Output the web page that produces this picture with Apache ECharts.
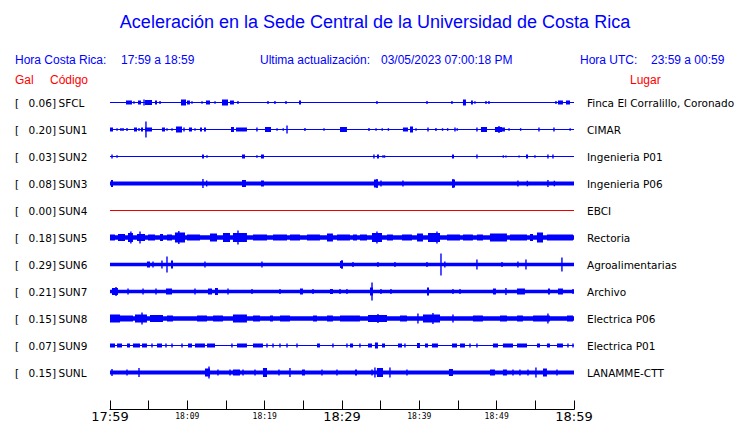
<!DOCTYPE html>
<html><head><meta charset="utf-8">
<script src="https://cdn.jsdelivr.net/npm/echarts@6/dist/echarts.min.js"></script>
<style>html,body{margin:0;padding:0;background:#fff}#c{width:740px;height:423px}</style>
</head><body><div id="c"></div>
<script>
// ---------- data ----------
const stationCodes = ['SFCL','SUN1','SUN2','SUN3','SUN4','SUN5','SUN6','SUN7','SUN8','SUN9','SUNL'];
const galValues = ['0.06','0.20','0.03','0.08','0.00','0.18','0.29','0.21','0.15','0.07','0.15'];
const places = ['Finca El Corralillo, Coronado','CIMAR','Ingenieria P01','Ingenieria P06','EBCI','Rectoria','Agroalimentarias','Archivo','Electrica P06','Electrica P01','LANAMME-CTT'];
const tickLabels = ['17:59','18:09','18:19','18:29','18:39','18:49','18:59'];
const bigTickLabels = ['17:59','18:29','18:59'];
// baseline half-amplitude of each trace
const baseAmp = [0.5,0.6,0.5,2,0.5,2.3,1.7,1.7,2.3,0.6,2];
// bursts: [start minute, end minute, half amplitude]
const evSFCL = [[2.07,2.84,2],[3.1,3.1,1.2],[3.62,4.01,2],[4.53,5.43,2.5],[4.4,4.4,3],[5.82,6.08,2],[6.47,6.47,1.5],[9.18,9.83,3],[9.96,10.34,2],[10.6,10.6,1.2],[11.9,11.9,1.2],[12.41,12.93,2],[13.58,13.58,1.2],[14.48,15.26,3],[15.52,16.03,2],[16.55,16.55,1.5],[20.43,20.43,1.5],[21.33,21.33,1.5],[22.76,22.76,1.5],[24.44,24.7,2],[34.52,34.52,1.5],[40.99,40.99,1.5],[44.22,44.22,1.5],[45.64,46.03,3],[46.68,46.93,2],[47.19,47.19,1.2],[48.62,48.62,1.5],[49.0,49.0,1.5],[57.67,57.67,1.5],[57.93,58.57,2],[58.96,59.48,2]];
const evSUN1 = [[0,0.39,2],[0.91,0.91,1.3],[1.42,1.42,1.5],[1.68,1.68,1.5],[2.2,2.2,1.5],[3.1,3.49,2],[3.75,3.75,1.5],[4.01,4.27,2],[4.53,5.43,2],[4.65,4.65,8],[6.72,7.11,2],[7.37,7.37,1.3],[8.02,8.02,1.3],[8.53,9.31,3],[9.57,9.57,2],[10.21,10.6,2],[10.99,10.99,1.3],[11.64,11.9,2],[12.15,12.41,2],[15.65,16.03,2.5],[16.29,17.71,2],[19.0,19.0,2],[20.04,20.82,2.5],[21.6,21.6,1.3],[22.4,22.4,1.3],[22.89,22.89,4],[25.21,25.21,1.5],[27.67,27.67,1.3],[29.74,30.64,2.5],[33.49,33.49,1.5],[34.4,34.4,1.3],[35.2,35.2,1.3],[36.0,36.0,1.3],[37.88,38.53,2],[38.79,39.18,3],[39.57,39.57,1.3],[41.12,41.12,2],[42.15,42.15,1.5],[43.0,43.0,1.3],[43.66,43.66,1.3],[44.61,44.61,2],[44.9,44.9,1.3],[47.45,47.45,2],[47.97,48.75,2.5],[49.78,50.69,2.5],[50.3,50.3,3.5],[50.69,51.07,2],[51.6,51.6,1.3],[53.1,53.1,1.3],[55.47,55.47,2],[57.41,57.41,2],[59.5,59.5,1.3]];
const evSUN2 = [[0.26,0.26,2],[0.91,0.91,1.2],[11.9,12.15,2],[12.54,12.54,1.2],[17.07,17.46,2],[19.0,19.0,1.2],[19.52,19.91,2],[34.13,34.13,2],[34.52,34.78,2],[35.3,35.3,1.2],[35.5,35.5,1.2],[44.22,44.48,2],[47.45,47.45,2],[50.86,50.86,1.2],[51.2,51.2,1],[52.9,52.9,1],[53.79,54.05,2],[54.95,54.95,1.2],[56.63,56.63,2],[57.28,57.28,2]];
const evSUN3 = [[0.13,0.39,3.5],[12.02,12.02,4.5],[12.5,12.5,3],[17.07,17.58,3.5],[19.52,19.91,3],[34.13,34.65,4],[34.52,34.52,4.5],[35.04,35.17,3],[37.88,37.88,3],[44.22,44.61,4],[44.35,44.35,4.5],[52.75,52.75,3],[53.97,53.97,2.8],[56.63,56.63,3.5],[57.46,57.46,2.8]];
const evSUN4 = [];
const evSUN5 = [[0,0.65,3],[1.03,1.94,3.5],[2.33,2.97,4.5],[2.7,2.7,6],[3.49,4.53,3.5],[3.88,3.88,6],[4.91,5.82,3],[6.47,6.85,3.5],[7.37,8.02,3],[8.4,9.7,5],[8.9,8.9,6.5],[9.96,11.64,3],[12.93,13.84,4],[14.61,15.52,4.5],[15.9,17.71,4.5],[16.55,16.55,7],[18.49,20.3,3],[21.08,22.89,3],[23.27,24.57,3],[25.47,27.15,3],[28.06,28.83,4],[29.35,31.03,3],[31.42,31.94,3],[32.32,33.23,3],[33.88,35.17,4.5],[34.52,34.52,6],[35.82,36.59,3],[37.76,39.05,3],[39.7,40.47,4],[41.12,42.67,4.5],[42.28,42.28,6],[43.57,45.26,3],[45.64,46.93,3],[47.45,48.23,3],[49.13,51.33,4],[51.72,53.92,3],[54.31,54.7,3.5],[55.21,55.99,5],[56.5,59.87,3]];
const evSUN6 = [[4.78,5.17,3],[5.56,5.56,3],[6.72,6.85,4],[7.37,7.37,8],[7.89,8.15,4],[12.28,12.28,3],[19.65,19.65,3],[29.74,30.13,3.5],[30.0,30.0,4.5],[31.42,31.42,2.5],[34.65,34.65,2.5],[36.85,36.85,2.5],[40.99,40.99,2.5],[42.8,42.8,11],[43.3,43.3,3],[47.45,47.45,5],[50.69,50.69,2.5],[52.75,52.75,3],[53.79,53.79,5],[58.44,58.44,7]];
const evSUN7 = [[0.26,1.03,3.5],[0.78,0.78,4.5],[2.33,2.33,3],[4.27,4.27,3],[5.95,5.95,3],[7.24,8.02,3],[10.99,10.99,3],[12.67,13.19,3],[13.58,13.96,3.5],[15.26,15.26,3],[18.36,18.36,2.5],[21.98,21.98,2.5],[24.57,24.95,3],[26.25,26.25,2.5],[28.45,28.83,2.5],[29.74,29.74,2.5],[30.64,30.64,2.5],[33.62,34.0,4],[33.88,33.88,9],[35.04,35.04,2.5],[36.33,36.33,2.5],[40.99,41.25,4],[44.35,44.35,2.5],[45.26,45.26,2.5],[49.52,49.91,3],[51.2,51.2,3.5],[52.63,53.66,3],[56.63,56.89,3],[57.93,58.57,3],[59.87,59.87,2.5]];
const evSUN8 = [[0,1.29,4],[1.29,2.97,3],[3.23,4.78,4],[4.14,4.14,6],[5.17,6.85,3.5],[7.37,8.15,3],[11.25,12.54,3],[13.32,14.61,3],[15.9,17.71,4],[18.49,19.4,3],[20.69,21.08,3],[21.98,23.27,3],[26.25,26.77,3],[28.06,28.83,3],[29.74,32.32,3],[33.36,35.82,3.5],[34.65,34.65,4.5],[37.5,38.4,3],[39.82,39.82,5],[40.47,42.67,4],[41.76,41.76,5.5],[44.35,44.35,4],[46.93,48.23,3],[50.43,51.33,3],[52.63,53.4,3],[54.7,56.89,3],[56.63,56.63,5],[59.09,59.87,3]];
const evSUN9 = [[0,0.65,2],[0.91,1.55,2],[2.2,2.59,2],[2.97,3.88,2],[4.14,4.78,2],[5.43,5.43,2],[6.08,6.72,2],[7.24,7.24,2],[8.02,8.02,2],[9.31,9.44,2],[10.09,10.6,2],[10.99,12.28,2],[12.54,13.58,2],[15.77,15.77,2],[16.42,17.71,2],[18.49,19.78,2],[20.3,20.3,2],[21.08,21.08,2],[21.98,21.98,2],[22.89,22.89,2],[24.18,24.18,2],[26.77,27.15,2],[28.83,28.83,2],[30.64,30.64,2],[31.03,31.42,2],[32.32,32.32,2],[33.36,33.88,2],[34.26,34.65,3],[35.17,35.56,2],[37.24,37.76,2],[38.14,38.14,2],[39.7,40.08,2.5],[40.73,41.12,2],[41.63,42.41,2],[44.22,44.87,2],[45.26,45.9,2],[46.55,46.55,2],[47.45,47.45,2],[49.52,50.17,2],[50.81,52.11,2],[52.63,53.92,2],[55.21,55.6,2],[56.5,56.89,2],[57.8,58.57,2],[59.22,59.22,2],[59.87,59.87,2]];
const evSUNL = [[0.26,0.26,3.5],[2.2,2.2,3],[3.75,3.75,4.5],[12.28,12.93,4],[12.8,12.8,6],[13.96,13.96,3],[15.52,15.52,3],[15.9,16.81,3],[17.2,17.2,3],[18.75,18.75,3],[19.78,20.3,4.5],[21.85,21.85,3],[23.27,23.27,4.5],[24.83,25.21,3],[27.41,27.41,3],[29.35,29.35,3],[31.68,31.94,3],[33.88,33.88,3],[34.52,35.3,4.5],[34.26,34.26,5],[36.2,36.2,5],[38.4,38.4,3],[43.83,44.35,3.5],[49.13,49.78,3],[50.81,51.33,3],[52.11,52.11,3],[53.01,53.01,3],[54.05,54.05,3],[55.08,55.08,5],[55.99,56.5,4],[57.8,57.8,3]];
const events = [evSFCL,evSUN1,evSUN2,evSUN3,evSUN4,evSUN5,evSUN6,evSUN7,evSUN8,evSUN9,evSUNL];

// ---------- style ----------
const BLUE = '#0000ff', RED = '#ff0000';
const traceColors = stationCodes.map(c => c === 'SUN4' ? '#ee0000' : BLUE);
const ROW_STEP = 27;
const N = stationCodes.length;

const chart = echarts.init(document.getElementById('c'), null, {renderer: 'svg'});

const series = stationCodes.map((code, i) => ({
  type: 'custom',
  name: code,
  clip: false,
  silent: true,
  encode: {x: [0, 1], y: 3},
  data: [[0, 60, baseAmp[i], i * ROW_STEP]].concat(events[i].map(e => [e[0], e[1], e[2], i * ROW_STEP])),
  renderItem: (params, api) => {
    const s = api.value(0), e = api.value(1), a = api.value(2), r = api.value(3);
    const p1 = api.coord([s, r - a]);
    const p2 = api.coord([e, r + a]);
    const narrow = (p2[0] - p1[0]) < 1.4;
    const w = narrow ? 1.4 : p2[0] - p1[0];
    const y = Math.min(p1[1], p2[1]);
    const h = Math.abs(p2[1] - p1[1]);
    return {type: 'rect', shape: {x: narrow ? p1[0] - 0.7 : p1[0], y: y, width: w, height: h}, style: {fill: traceColors[i]}};
  }
}));

chart.setOption({
  animation: false,
  backgroundColor: '#fff',
  grid: {left: 110, right: 166, top: 89, bottom: 37, outerBoundsMode: 'none', containLabel: false},
  xAxis: {
    type: 'value', min: 0, max: 60, interval: 5, offset: 23.5,
    axisLine: {show: true, onZero: false, lineStyle: {color: '#000', width: 1}},
    axisTick: {show: true, inside: true, length: 9, lineStyle: {color: '#000'}},
    splitLine: {show: false},
    axisLabel: {
      margin: 7,
      verticalAlign: 'middle',
      formatter: v => {
        if (v % 10 !== 0) return '';
        const t = tickLabels[v / 10];
        return bigTickLabels.includes(t) ? '{big|' + t + '}' : '{small|' + t + '}';
      },
      rich: {
        big: {fontFamily: 'DejaVu Sans', fontSize: 13, color: '#000', lineHeight: 13, verticalAlign: 'middle'},
        small: {fontFamily: 'DejaVu Sans Mono', fontSize: 8, color: '#000', lineHeight: 13, verticalAlign: 'middle'}
      }
    }
  },
  yAxis: {type: 'value', min: -ROW_STEP / 2, max: (N - 1) * ROW_STEP + ROW_STEP / 2, inverse: true, show: false},
  series: series
});

const hdr = (text, x, y, color, size, align) => ({
  type: 'text', x: x, y: y, silent: true,
  style: {text: text, fill: color, fontFamily: 'Liberation Sans', fontSize: size, align: align || 'left', verticalAlign: 'middle'}
});
const graphics = [
  hdr('Aceleración en la Sede Central de la Universidad de Costa Rica', 375, 22, BLUE, 18, 'center'),
  hdr('Hora Costa Rica:', 15, 60, BLUE, 12),
  hdr('17:59 a 18:59', 121, 60, BLUE, 12),
  hdr('Ultima actualización:', 260, 60, BLUE, 12),
  hdr('03/05/2023 07:00:18 PM', 381, 60, BLUE, 12),
  hdr('Hora UTC:', 580, 60, BLUE, 12),
  hdr('23:59 a 00:59', 651, 60, BLUE, 12),
  hdr('Gal', 15, 80, RED, 12),
  hdr('Código', 50, 80, RED, 12),
  hdr('Lugar', 630, 80, RED, 12)
];
const xEnd = chart.convertToPixel({xAxisIndex: 0}, 60);
const lab = (text, x, y, align) => ({
  type: 'text', x: x, y: y, silent: true,
  style: {text: text, fill: '#000', fontFamily: 'DejaVu Sans', fontSize: 10.5, align: align, verticalAlign: 'middle'}
});
stationCodes.forEach((code, i) => {
  const y = chart.convertToPixel({yAxisIndex: 0}, i * ROW_STEP);
  graphics.push(lab('[', 15, y, 'left'));
  graphics.push(lab(galValues[i] + ']', 56, y, 'right'));
  graphics.push(lab(code, 58.5, y, 'left'));
  graphics.push(lab(places[i], xEnd + 13, y, 'left'));
});
chart.setOption({graphic: graphics});
</script></body></html>
